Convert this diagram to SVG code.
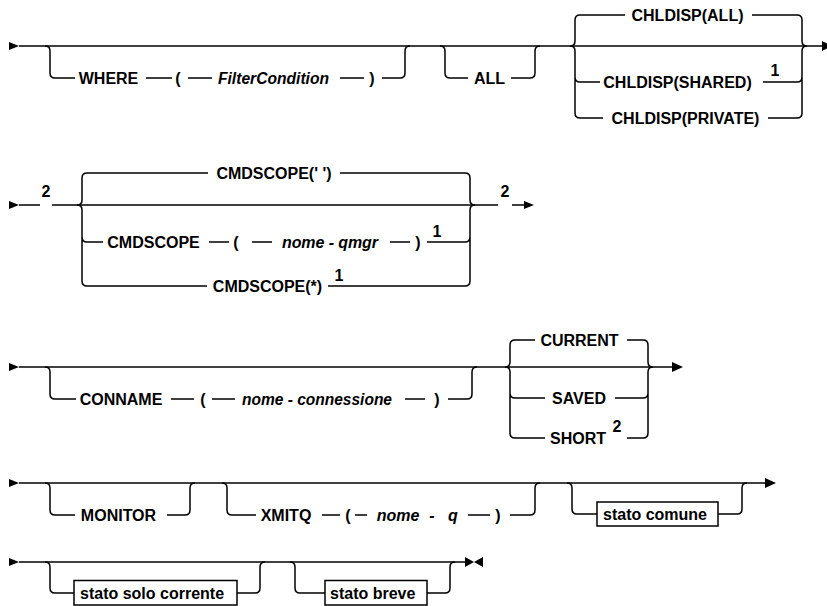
<svg xmlns="http://www.w3.org/2000/svg" width="827" height="606" viewBox="0 0 827 606">
<style>
.t{font-family:"Liberation Sans",Arial,sans-serif;font-size:16px;font-weight:bold;fill:#000;text-anchor:middle}
.st{text-anchor:start}
.i{font-style:italic}
.s{font-size:16px}
.l{stroke:#000;stroke-width:1.5;fill:none}
.a{fill:#000}
.b{fill:#fff;stroke:#000;stroke-width:1.5}
</style>
<rect width="827" height="606" fill="#fff"/>
<g id="connectors">
<polygon class="a" points="9,42 19,46 9,50"/>
<line class="l" x1="19" y1="46" x2="822" y2="46"/>
<path class="l" d="M45 46 Q50 46 50 51 L50 73 Q50 78 55 78 M400 78 Q405 78 405 73 L405 51 Q405 46 410 46"/>
<path class="l" d="M55 78 H75 M146 78 H172 M188 78 H212 M340 78 H364 M382 78 H400"/>
<path class="l" d="M440 46 Q445 46 445 51 L445 73 Q445 78 450 78 M530 78 Q535 78 535 73 L535 51 Q535 46 540 46"/>
<path class="l" d="M450 78 H468 M511 78 H530"/>
<path class="l" d="M570 46 Q575 46 575 41 L575 20 Q575 15 580 15 M570 46 Q575 46 575 51 L575 113 Q575 118 580 118 M575 77 Q575 82 580 82"/>
<path class="l" d="M797 15 Q802 15 802 20 L802 41 Q802 46 807 46 M797 118 Q802 118 802 113 L802 51 Q802 46 807 46 M797 82 Q802 82 802 77"/>
<path class="l" d="M580 15 H625 M752 15 H797 M580 82 H600 M763 82 H797 M580 118 H603 M768 118 H797"/>
<polygon class="a" points="822,41 832,46 822,51"/>
<polygon class="a" points="9,201 19,205 9,209"/>
<path class="l" d="M19 205 H40 M52 205 H475 M475 205 H498 M512 205 H524"/>
<path class="l" d="M77 205 Q82 205 82 200 L82 178 Q82 173 87 173 M77 205 Q82 205 82 210 L82 281 Q82 286 87 286 M82 237 Q82 242 87 242"/>
<path class="l" d="M465 173 Q470 173 470 178 L470 200 Q470 205 475 205 M465 286 Q470 286 470 281 L470 210 Q470 205 475 205 M465 242 Q470 242 470 237"/>
<path class="l" d="M87 173 H208 M340 173 H465 M87 242 H103 M209 242 H229 M252 242 H272 M390 242 H410 M427 242 H465 M87 286 H207 M328 286 H465"/>
<polygon class="a" points="524,201 534,205 524,209"/>
<polygon class="a" points="9,363 19,367 9,371"/>
<line class="l" x1="19" y1="367" x2="673" y2="367"/>
<path class="l" d="M45 367 Q50 367 50 372 L50 394 Q50 399 55 399 M467 399 Q472 399 472 394 L472 372 Q472 367 477 367"/>
<path class="l" d="M55 399 H76 M171 399 H194 M212 399 H235 M405 399 H425 M448 399 H467"/>
<path class="l" d="M505 367 Q510 367 510 362 L510 345 Q510 340 515 340 M505 367 Q510 367 510 372 L510 433 Q510 438 515 438 M510 393 Q510 398 515 398"/>
<path class="l" d="M643 340 Q648 340 648 345 L648 362 Q648 367 653 367 M643 438 Q648 438 648 433 L648 372 Q648 367 653 367 M643 398 Q648 398 648 393"/>
<path class="l" d="M515 340 H535 M627 340 H643 M515 398 H545 M615 398 H643 M515 438 H545 M627 438 H643"/>
<polygon class="a" points="672,362 683,367 672,372"/>
<polygon class="a" points="9,479 19,483 9,487"/>
<line class="l" x1="19" y1="483" x2="766" y2="483"/>
<path class="l" d="M45 483 Q50 483 50 488 L50 510 Q50 515 55 515 M185 515 Q190 515 190 510 L190 488 Q190 483 195 483"/>
<path class="l" d="M55 515 H75 M167 515 H185"/>
<path class="l" d="M222 483 Q227 483 227 488 L227 510 Q227 515 232 515 M530 515 Q535 515 535 510 L535 488 Q535 483 540 483"/>
<path class="l" d="M232 515 H256 M322 515 H340 M355 515 H367 M468 515 H490 M510 515 H530"/>
<path class="l" d="M567 483 Q572 483 572 488 L572 509 Q572 514 577 514 M737 514 Q742 514 742 509 L742 488 Q742 483 747 483"/>
<path class="l" d="M577 514 H597 M718 514 H737"/>
<polygon class="a" points="765,478 776,483 765,488"/>
<polygon class="a" points="9,558 19,562 9,566"/>
<line class="l" x1="19" y1="562" x2="470" y2="562"/>
<path class="l" d="M45 562 Q50 562 50 567 L50 588 Q50 593 55 593 M255 593 Q260 593 260 588 L260 567 Q260 562 265 562"/>
<path class="l" d="M55 593 H74 M237 593 H255"/>
<path class="l" d="M290 562 Q295 562 295 567 L295 588 Q295 593 300 593 M445 593 Q450 593 450 588 L450 567 Q450 562 455 562"/>
<path class="l" d="M300 593 H325 M427 593 H445"/>
<polygon class="a" points="465,557 474,562 465,567"/>
<polygon class="a" points="483,557 474,562 483,567"/>
</g>
<g id="where">
<text class="t" x="108.5" y="83.5">WHERE</text>
<text class="t" x="178" y="83.5">(</text>
<text class="t i" x="273.5" y="83.5" textLength="111" lengthAdjust="spacingAndGlyphs">FilterCondition</text>
<text class="t" x="372" y="83.5">)</text>
</g>
<g id="all"><text class="t" x="489.5" y="83.5">ALL</text></g>
<g id="chldisp-all"><text class="t" x="687.5" y="20.5">CHLDISP(ALL)</text></g>
<g id="chldisp-shared"><text class="t" x="677.5" y="87.5">CHLDISP(SHARED)</text><text class="t s" x="775" y="76">1</text></g>
<g id="chldisp-private"><text class="t" x="685.5" y="123.5">CHLDISP(PRIVATE)</text></g>
<g id="row2-note"><text class="t s" x="46" y="197">2</text></g>
<g id="cmdscope-blank"><text class="t" x="274" y="178.5">CMDSCOPE(' ')</text></g>
<g id="cmdscope-qmgr">
<text class="t" x="153.5" y="247.5">CMDSCOPE</text>
<text class="t" x="236" y="247.5">(</text>
<text class="t i st" x="282" y="247.5" textLength="96" lengthAdjust="spacing">nome - qmgr</text>
<text class="t" x="418" y="247.5">)</text>
<text class="t s" x="437" y="237">1</text>
</g>
<g id="cmdscope-star"><text class="t" x="267.5" y="291.5">CMDSCOPE(*)</text><text class="t s" x="339" y="281">1</text></g>
<g id="row2-note-end"><text class="t s" x="505" y="197">2</text></g>
<g id="conname">
<text class="t" x="121" y="404.5">CONNAME</text>
<text class="t" x="203" y="404.5">(</text>
<text class="t i" x="317" y="404.5" textLength="150" lengthAdjust="spacingAndGlyphs">nome - connessione</text>
<text class="t" x="437" y="404.5">)</text>
</g>
<g id="current"><text class="t" x="579.5" y="345.5">CURRENT</text></g>
<g id="saved"><text class="t" x="579" y="403.5">SAVED</text></g>
<g id="short"><text class="t" x="578" y="443.5">SHORT</text><text class="t s" x="617" y="432">2</text></g>
<g id="monitor"><text class="t" x="118.5" y="520.5">MONITOR</text></g>
<g id="xmitq">
<text class="t" x="286" y="520.5">XMITQ</text>
<text class="t" x="348" y="520.5">(</text>
<text class="t i" y="520.5"><tspan x="398">nome</tspan><tspan x="432">-</tspan><tspan x="453">q</tspan></text>
<text class="t" x="498" y="520.5">)</text>
</g>
<g id="stato-comune"><rect class="b" x="597" y="502" width="121" height="24"/><text class="t st" x="603" y="519.5">stato comune</text></g>
<g id="stato-solo-corrente"><rect class="b" x="74" y="580.5" width="163" height="24.5"/><text class="t st" x="80" y="598.5">stato solo corrente</text></g>
<g id="stato-breve"><rect class="b" x="325" y="580.5" width="102" height="24.5"/><text class="t st" x="330" y="598.5">stato breve</text></g>
</svg>
